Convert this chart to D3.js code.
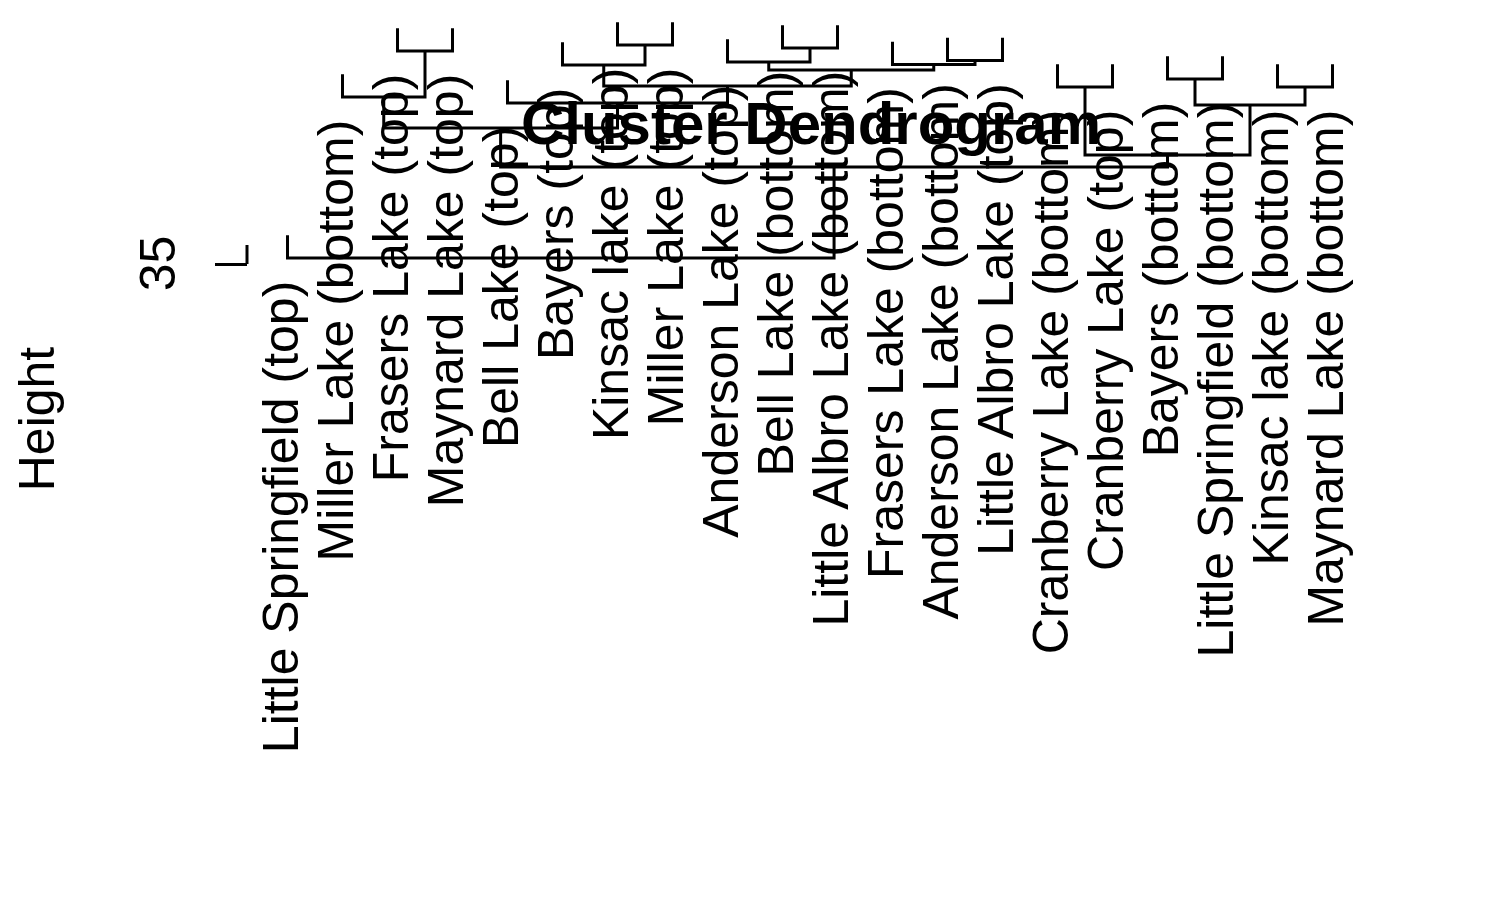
<!DOCTYPE html>
<html>
<head>
<meta charset="utf-8">
<script src="https://cdn.jsdelivr.net/npm/d3@7"></script>
<style>
  html, body { margin: 0; padding: 0; background: #fff; }
  svg { display: block; }
  text { font-family: "Liberation Sans", Arial, Helvetica, sans-serif; fill: #000; }
</style>
</head>
<body>
<svg id="chart" width="1500" height="900"></svg>
<script>
// Leaf labels in dendrogram order
const labels = [
  "Little Springfield (top)", "Miller Lake (bottom)", "Frasers Lake (top)", "Maynard Lake (top)",
  "Bell Lake (top)", "Bayers (top)", "Kinsac lake (top)", "Miller Lake (top)",
  "Anderson Lake (top)", "Bell Lake (bottom)", "Little Albro Lake (bottom)", "Frasers Lake (bottom)",
  "Anderson Lake (bottom)", "Little Albro Lake (top)", "Cranberry Lake (bottom)", "Cranberry Lake (top)",
  "Bayers (bottom)", "Little Springfield (bottom)", "Kinsac lake (bottom)", "Maynard Lake (bottom)"
];
// hclust-style merge table: negative = leaf (1-based index into labels), positive = earlier merge row
const mergeLeft  = [-7, -10, -3, -13, -9, -6, -12, 5, -17, 6, -15, -19, -2, -5, 9, 13, 11, 16, -1];
const mergeRight = [-8, -11, -4, -14,  2,  1,   4, 7, -18, 8, -16, -20,  3, 10, 12, 14, 15, 17, 18];
const mergeHeight = [13.10, 13.40, 13.70, 14.65, 14.80, 15.10, 15.05, 15.60, 16.50, 17.20,
                     17.30, 17.30, 18.30, 18.90, 19.10, 21.40, 24.10, 25.30, 34.40];
const yTicks = [35];
const titleText = "Cluster Dendrogram";
const yTitle = "Height";

const svg = d3.select("#chart");

const x = d3.scalePoint().domain(labels).range([287.5, 1332.5]);
// (broken R device: heights increase downward)
const y = d3.scaleLinear().domain([0, 35]).range([-86, 264]);

const hang = 0.1 * (d3.max(mergeHeight) - d3.min(mergeHeight));

const nodeX = [], nodeH = [];
function childInfo(c, h) {
  if (c < 0) {
    const lx = x(labels[-c - 1]);
    return { x: lx, top: h - hang, leaf: labels[-c - 1] };
  }
  return { x: nodeX[c - 1], top: nodeH[c - 1] };
}

const segs = [];
const leafTops = {};
mergeHeight.forEach((h, i) => {
  const a = childInfo(mergeLeft[i], h);
  const b = childInfo(mergeRight[i], h);
  if (a.leaf) leafTops[a.leaf] = a.top;
  if (b.leaf) leafTops[b.leaf] = b.top;
  segs.push([a.x, y(a.top), a.x, y(h)]);
  segs.push([b.x, y(b.top), b.x, y(h)]);
  segs.push([a.x, y(h), b.x, y(h)]);
  nodeX[i] = (a.x + b.x) / 2;
  nodeH[i] = h;
});

const path = segs.map(s => `M${s[0]},${s[1]}L${s[2]},${s[3]}`).join("");
svg.append("path")
  .attr("d", path)
  .attr("fill", "none")
  .attr("stroke", "#000")
  .attr("stroke-width", 3)
  .attr("stroke-linecap", "square");

// leaf labels
svg.append("g").selectAll("text").data(labels).join("text")
  .attr("transform", d => `translate(${x(d)},${y(leafTops[d]) + 44}) rotate(-90)`)
  .attr("text-anchor", "end")
  .attr("dy", 10)
  .style("font-size", "50px")
  .text(d => d);

// y axis (only the visible piece)
const axisScale = d3.scaleLinear().domain([33.1, 35]).range([245, 264]);
const axis = d3.axisLeft(axisScale).tickValues(yTicks).tickSizeOuter(0).tickSizeInner(32).tickFormat(d3.format("d"));
const gAx = svg.append("g").attr("transform", "translate(247,0)").call(axis);
gAx.select(".domain").attr("stroke-width", 3).attr("d", `M0,${axisScale.range()[0]}V${axisScale.range()[1]}`);
gAx.selectAll(".tick line").attr("stroke-width", 3);
gAx.selectAll(".tick text")
  .attr("x", null).attr("dy", null)
  .attr("transform", "translate(-72,-1) rotate(-90)")
  .attr("text-anchor", "middle")
  .style("font-size", "50px")
  .style("font-family", "'Liberation Sans', Arial, sans-serif");

// axis title
svg.append("text")
  .attr("transform", "translate(54,419) rotate(-90)")
  .attr("text-anchor", "middle")
  .style("font-size", "50px")
  .text(yTitle);

// main title
svg.append("text")
  .attr("x", 811).attr("y", 144)
  .attr("text-anchor", "middle")
  .style("font-size", "60px")
  .style("font-weight", "bold")
  .text(titleText);
</script>
</body>
</html>
